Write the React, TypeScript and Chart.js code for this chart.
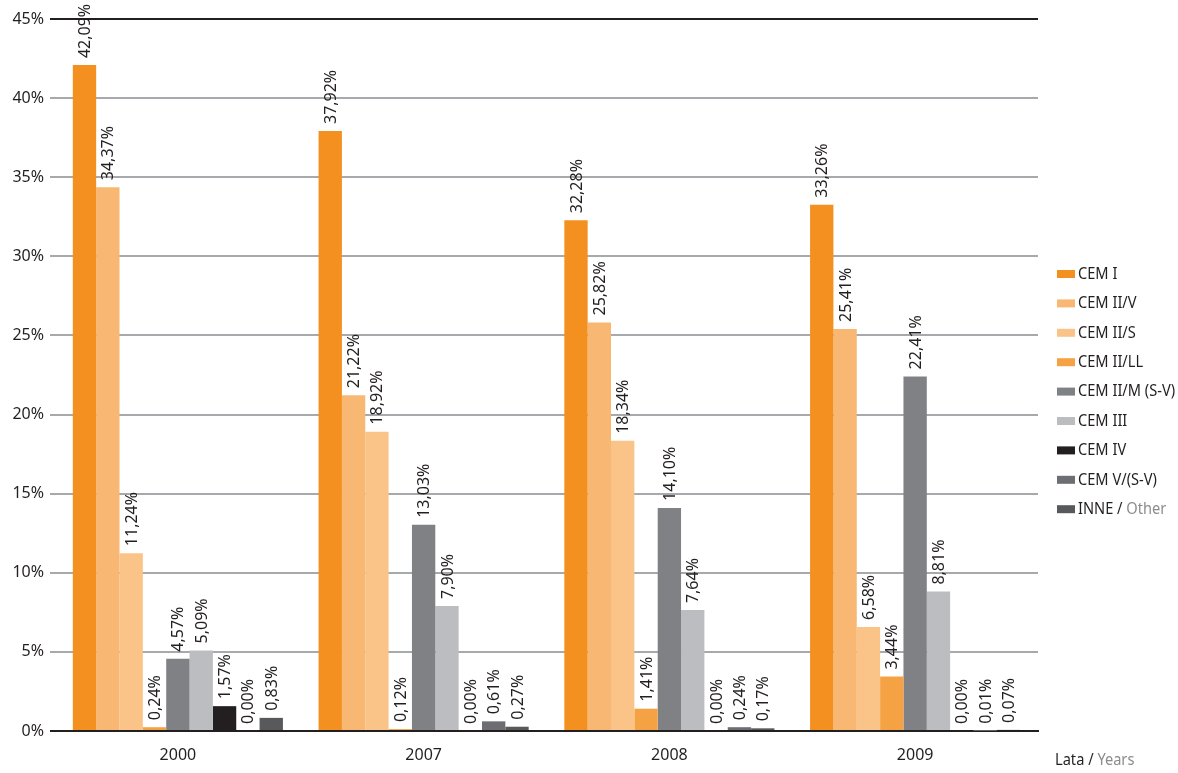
import React, { useEffect, useRef } from "react";
import { Chart, registerables } from "chart.js";

Chart.register(...registerables);

const years = ["2000", "2007", "2008", "2009"];
const seriesNames = [
  "CEM I",
  "CEM II/V",
  "CEM II/S",
  "CEM II/LL",
  "CEM II/M (S-V)",
  "CEM III",
  "CEM IV",
  "CEM V/(S-V)",
  "INNE / Other",
];
const seriesColors = [
  "#F39020",
  "#F8B874",
  "#FAC489",
  "#F5A244",
  "#808184",
  "#BCBDC0",
  "#231F20",
  "#6D6E71",
  "#58595B",
];
const cemI = [42.09, 37.92, 32.28, 33.26];
const cemIIV = [34.37, 21.22, 25.82, 25.41];
const cemIIS = [11.24, 18.92, 18.34, 6.58];
const cemIILL = [0.24, 0.12, 1.41, 3.44];
const cemIIM = [4.57, 13.03, 14.1, 22.41];
const cemIII = [5.09, 7.9, 7.64, 8.81];
const cemIV = [1.57, 0.0, 0.0, 0.0];
const cemV = [0.0, 0.61, 0.24, 0.01];
const inne = [0.83, 0.27, 0.17, 0.07];
const seriesValues = [cemI, cemIIV, cemIIS, cemIILL, cemIIM, cemIII, cemIV, cemV, inne];
const yTicks = [0, 5, 10, 15, 20, 25, 30, 35, 40, 45];

const FONT = '"Noto Sans", "DejaVu Sans", sans-serif';
const DARK = "#231F20";
const GREY_TEXT = "#8A8C8E";

const fmt = (v: number) => v.toFixed(2).replace(".", ",") + "%";

const labelPlugin = {
  id: "barLabels",
  afterDatasetsDraw(chart: any) {
    const ctx = chart.ctx;
    ctx.save();
    ctx.font = `16px ${FONT}`;
    ctx.fillStyle = DARK;
    ctx.textAlign = "left";
    ctx.textBaseline = "middle";
    chart.data.datasets.forEach((ds: any, di: number) => {
      const meta = chart.getDatasetMeta(di);
      meta.data.forEach((el: any, i: number) => {
        const v = ds.data[i];
        ctx.save();
        ctx.translate(el.x + 1, el.y - 7);
        ctx.rotate(-Math.PI / 2);
        ctx.fillText(fmt(v), 0, 0);
        ctx.restore();
      });
    });
    ctx.restore();
  },
};

function drawTwoTone(ctx: any, text: string, x: number, y: number, sx: number) {
  ctx.save();
  ctx.translate(x, y);
  ctx.scale(sx, 1);
  if (text.includes(" / ")) {
    const [a, b] = text.split(" / ");
    const first = a + " / ";
    ctx.fillStyle = DARK;
    ctx.fillText(first, 0, 0);
    const w = ctx.measureText(first).width;
    ctx.fillStyle = GREY_TEXT;
    ctx.fillText(b, w, 0);
  } else {
    ctx.fillStyle = DARK;
    ctx.fillText(text, 0, 0);
  }
  ctx.restore();
}

const legendPlugin = {
  id: "customLegend",
  afterDraw(chart: any) {
    const ctx = chart.ctx;
    ctx.save();
    ctx.font = `17px ${FONT}`;
    ctx.textBaseline = "middle";
    ctx.textAlign = "left";
    const x0 = 1057;
    const y0 = 274;
    const step = 29.4;
    seriesNames.forEach((name, i) => {
      const y = y0 + i * step;
      ctx.fillStyle = seriesColors[i];
      ctx.fillRect(x0, y - 4, 18, 8);
      drawTwoTone(ctx, name, x0 + 21, y, 0.86);
    });
    drawTwoTone(ctx, "Lata / Years", 1055, 760, 0.86);
    ctx.restore();
  },
};

export default function App() {
  const ref = useRef<HTMLCanvasElement | null>(null);
  useEffect(() => {
    if (!ref.current) return;
    const chart = new Chart(ref.current, {
      type: "bar",
      data: {
        labels: years,
        datasets: seriesNames.map((name, i) => ({
          label: name,
          data: seriesValues[i],
          backgroundColor: seriesColors[i],
          borderWidth: 0,
          barPercentage: 1,
          categoryPercentage: 0.855,
        })),
      },
      options: {
        responsive: false,
        animation: false,
        layout: { padding: { top: 19, right: 140, left: 0, bottom: 0 } },
        plugins: {
          legend: { display: false },
          tooltip: { enabled: false },
        },
        scales: {
          x: {
            afterFit: (s: any) => {
              s.height = 42;
            },
            grid: { display: false, drawTicks: false },
            border: { display: true, color: DARK, width: 2 },
            ticks: { color: DARK, font: { family: FONT, size: 16 }, padding: 15 },
          },
          y: {
            min: 0,
            max: 45,
            afterFit: (s: any) => {
              s.width = 55;
            },
            afterBuildTicks: (s: any) => {
              s.ticks = yTicks.map((v) => ({ value: v }));
            },
            border: { display: false },
            grid: {
              color: (c: any) => (c.tick && (c.tick.value === 45 || c.tick.value === 0) ? DARK : "#A7A9AC"),
              lineWidth: 2,
              tickLength: 5,
            },
            ticks: {
              color: DARK,
              font: { family: FONT, size: 16 },
              padding: 6,
              callback: (v: any) => v + "%",
            },
          },
        },
      },
      plugins: [labelPlugin, legendPlugin],
    });
    return () => chart.destroy();
  }, []);
  return (
    <div style={{ position: "absolute", left: 0, top: 0, width: 1178, height: 773, background: "#fff" }}>
      <canvas ref={ref} width={1178} height={773} style={{ display: "block" }} />
    </div>
  );
}
